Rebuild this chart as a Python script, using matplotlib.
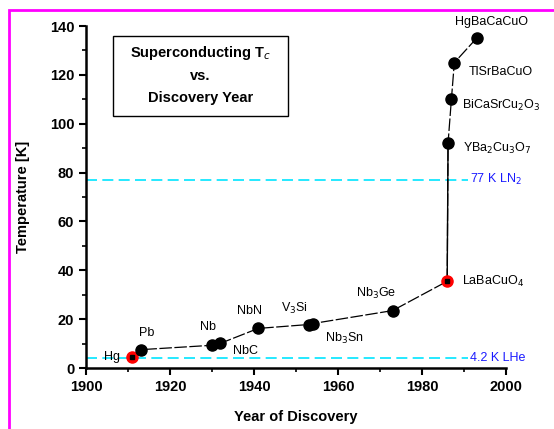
import matplotlib
matplotlib.use("Agg")
import matplotlib.pyplot as plt
from matplotlib.patches import Rectangle
from matplotlib.ticker import MultipleLocator

plt.rcParams['font.family'] = ['Liberation Sans', 'DejaVu Sans']

materials = ["Hg", "Pb", "Nb", "NbC", "NbN", "V$_3$Si", "Nb$_3$Sn", "Nb$_3$Ge",
             "LaBaCuO$_4$", "YBa$_2$Cu$_3$O$_7$", "BiCaSrCu$_2$O$_3$", "TlSrBaCuO", "HgBaCaCuO"]
years = [1911, 1913, 1930, 1932, 1941, 1953, 1954, 1973, 1986, 1986.2, 1987, 1987.7, 1993]
tc = [4.5, 7.5, 9.3, 10.1, 16.2, 17.8, 18.2, 23.5, 35.5, 92, 110, 125, 135]
red_points = ["Hg", "LaBaCuO$_4$"]

ref_levels = [77, 4.2]
ref_labels = ["77 K LN$_2$", "4.2 K LHe"]

label_offsets = {
    "Hg": (-9, 0, "right", "center"),
    "Pb": (-1.5, 8, "left", "bottom"),
    "Nb": (3, 9, "right", "bottom"),
    "NbC": (9, -1, "left", "top"),
    "NbN": (-6.5, 8, "center", "bottom"),
    "V$_3$Si": (-10, 6, "center", "bottom"),
    "Nb$_3$Sn": (9, -5, "left", "top"),
    "Nb$_3$Ge": (-12, 7, "center", "bottom"),
    "LaBaCuO$_4$": (10.5, 0, "left", "center"),
    "YBa$_2$Cu$_3$O$_7$": (11, -4, "left", "center"),
    "BiCaSrCu$_2$O$_3$": (7.5, -4.5, "left", "center"),
    "TlSrBaCuO": (10, -7, "left", "center"),
    "HgBaCaCuO": (11, 12, "center", "center"),
}

fig = plt.figure(figsize=(5.54, 4.29), dpi=100)
ax = fig.add_axes([86/554, 1-368/429, 420/554, 342/429])

# magenta border
fig.patches.append(Rectangle((9/554, -0.2), 1.2, 1-10/429+0.2, transform=fig.transFigure,
                             fill=False, edgecolor='#ff00ff', linewidth=2, zorder=10))

for lvl, lab in zip(ref_levels, ref_labels):
    ax.plot([1900, 1991], [lvl, lvl], color='#00e5ff', lw=1.2, dashes=(6.6, 3.2), zorder=1)
    ax.text(1991.5, lvl, lab, color='#1a1aff', fontsize=9, va='center', ha='left')

ax.plot(years, tc, color='black', lw=0.9, dashes=(10, 2), zorder=2)
ax.plot(years[8:10], tc[8:10], color='black', lw=1.0, zorder=2)
for m, x, y in zip(materials, years, tc):
    if m in red_points:
        ax.plot(x, y, 'o', color='red', ms=8, zorder=3)
        ax.plot(x, y, 's', color='black', ms=3, zorder=4)
    else:
        ax.plot(x, y, 'o', color='black', ms=8, zorder=3)
    dx, dy, ha, va = label_offsets[m]
    ax.annotate(m, (x, y), xytext=(dx, dy), textcoords='offset points',
                ha=ha, va=va, fontsize=9)

ax.set_xlim(1900, 2000)
ax.set_ylim(0, 140)
ax.xaxis.set_major_locator(MultipleLocator(20))
ax.xaxis.set_minor_locator(MultipleLocator(10))
ax.yaxis.set_major_locator(MultipleLocator(20))
ax.yaxis.set_minor_locator(MultipleLocator(10))
ax.spines['top'].set_visible(False)
ax.spines['right'].set_visible(False)
ax.spines['left'].set_linewidth(1.8)
ax.spines['bottom'].set_linewidth(1.8)
ax.tick_params(which='major', direction='out', length=5, width=1.5, labelsize=10.5)
ax.tick_params(which='minor', direction='out', length=3, width=1.2)
for t in ax.get_xticklabels() + ax.get_yticklabels():
    t.set_fontweight('bold')
ax.set_xlabel("Year of Discovery", fontsize=10.5, fontweight='bold', labelpad=12)
ax.set_ylabel("Temperature [K]", fontsize=10.5, fontweight='bold', labelpad=14)

# title box
ax.add_patch(Rectangle((1906.4, 103.2), 41.7, 32.7, fill=True, facecolor='white',
                       edgecolor='black', lw=1, zorder=5))
ax.text(1927.2, 129, "Superconducting T$_c$", fontsize=10.5, fontweight='bold',
        ha='center', va='center', zorder=6)
ax.text(1927.2, 119.5, "vs.", fontsize=10.5, fontweight='bold',
        ha='center', va='center', zorder=6)
ax.text(1927.2, 110.5, "Discovery Year", fontsize=10.5, fontweight='bold',
        ha='center', va='center', zorder=6)

fig.savefig("out.png", dpi=100)
